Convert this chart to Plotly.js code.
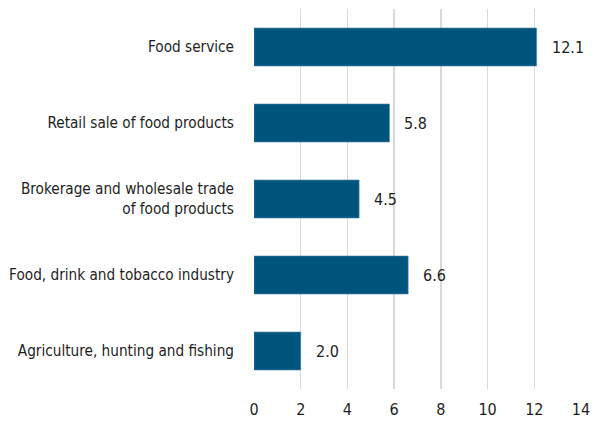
<!DOCTYPE html>
<html>
<head>
<meta charset="utf-8">
<script src="https://cdn.plot.ly/plotly-3.0.1.min.js"></script>
<style>html,body{margin:0;padding:0;background:#fff;}#chart{width:594px;height:421px;}</style>
</head>
<body>
<div id="chart"></div>
<script>
const categories = [
  "Agriculture, hunting and fishing",
  "Food, drink and tobacco industry",
  "Brokerage and wholesale trade<br>of food products",
  "Retail sale of food products",
  "Food service"
];
const values = [2.0, 6.6, 4.5, 5.8, 12.1];
const tickVals = [0, 2, 4, 6, 8, 10, 12, 14];

const FONT = '"DejaVu Sans Condensed", "Liberation Sans Narrow", sans-serif';
const TXT = '#1e1e1e';

const trace = {
  type: 'bar',
  orientation: 'h',
  y: categories,
  x: values,
  width: 0.5,
  marker: {color: '#00557f', line: {color: '#4f87aa', width: 0.6}},
  hoverinfo: 'none'
};

const annotations = values.map((v, i) => ({
  x: v, y: categories[i], xref: 'x', yref: 'y',
  text: v.toFixed(1), showarrow: false, xanchor: 'left', xshift: 13,
  font: {family: FONT, size: 16, color: TXT}
}));

const layout = {
  width: 594, height: 421,
  margin: {l: 254, r: 13, t: 9, b: 32},
  paper_bgcolor: '#fff', plot_bgcolor: '#fff',
  showlegend: false,
  font: {family: FONT, size: 15, color: TXT},
  xaxis: {
    range: [0, 14], tickvals: tickVals, ticktext: tickVals.map(String),
    showgrid: true, gridcolor: '#d9d9d9', gridwidth: 1.5,
    zeroline: false, showline: false, ticks: '',
    ticklabelstandoff: 9,
    tickfont: {family: FONT, size: 16, color: TXT}, fixedrange: true
  },
  yaxis: {
    showgrid: false, zeroline: false, showline: false, ticks: '',
    ticklabelstandoff: 19,
    tickfont: {family: FONT, size: 15.2, color: TXT}, fixedrange: true
  },
  annotations: annotations
};

Plotly.newPlot('chart', [trace], layout, {staticPlot: true, displayModeBar: false});
</script>
</body>
</html>
